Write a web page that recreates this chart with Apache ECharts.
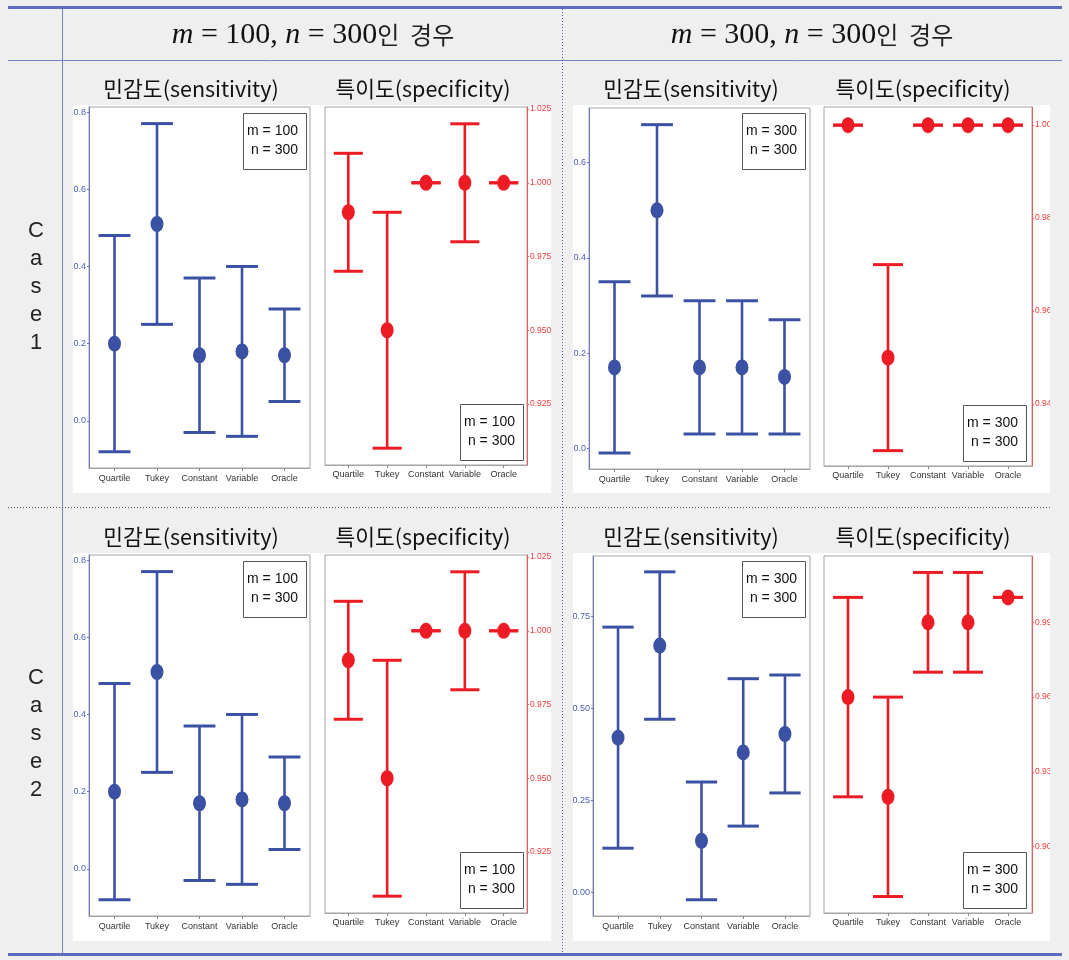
<!DOCTYPE html>
<html>
<head>
<meta charset="utf-8">
<script src="https://cdn.jsdelivr.net/npm/echarts@6/dist/echarts.min.js"></script>
<style>
  html, body { margin: 0; padding: 0; background: #efefef; }
  #chart { width: 1069px; height: 960px; }
</style>
</head>
<body>
<div id="chart"></div>
<script>
// Methods compared in every panel
const categories = ['Quartile', 'Tukey', 'Constant', 'Variable', 'Oracle'];

// m = 100, n = 300 (identical in Case 1 and Case 2)
const sens100Mean = [0.20, 0.51, 0.17, 0.18, 0.17];
const sens100Low  = [-0.08, 0.25, -0.03, -0.04, 0.05];
const sens100High = [0.48, 0.77, 0.37, 0.40, 0.29];
const spec100Mean = [0.990, 0.950, 1.000, 1.000, 1.000];
const spec100Low  = [0.970, 0.910, 1.000, 0.980, 1.000];
const spec100High = [1.010, 0.990, 1.000, 1.020, 1.000];

// m = 300, n = 300, Case 1
const sens300c1Mean = [0.17, 0.50, 0.17, 0.17, 0.15];
const sens300c1Low  = [-0.01, 0.32, 0.03, 0.03, 0.03];
const sens300c1High = [0.35, 0.68, 0.31, 0.31, 0.27];
const spec300c1Mean = [1.00, 0.95, 1.00, 1.00, 1.00];
const spec300c1Low  = [1.00, 0.93, 1.00, 1.00, 1.00];
const spec300c1High = [1.00, 0.97, 1.00, 1.00, 1.00];

// m = 300, n = 300, Case 2
const sens300c2Mean = [0.42, 0.67, 0.14, 0.38, 0.43];
const sens300c2Low  = [0.12, 0.47, -0.02, 0.18, 0.27];
const sens300c2High = [0.72, 0.87, 0.30, 0.58, 0.59];
const spec300c2Mean = [0.96, 0.92, 0.99, 0.99, 1.00];
const spec300c2Low  = [0.92, 0.88, 0.97, 0.97, 1.00];
const spec300c2High = [1.00, 0.96, 1.01, 1.01, 1.00];

// Y tick values for each panel type
const sensTicks100   = [0, 0.2, 0.4, 0.6, 0.8];
const specTicks100   = [0.925, 0.950, 0.975, 1.000, 1.025];
const sensTicks300c1 = [0, 0.2, 0.4, 0.6];
const specTicks300c1 = [0.94, 0.96, 0.98, 1.00];
const sensTicks300c2 = [0, 0.25, 0.50, 0.75];
const specTicks300c2 = [0.90, 0.93, 0.96, 0.99];

const BLUE = '#3b51a3';
const RED = '#ed1c24';
const SANS = "'Liberation Sans', Arial, sans-serif";
const KR = "'Noto Sans CJK KR', 'Noto Sans', sans-serif";
const CAP = 0.375;
const ELLIPSE = 'path://M0,-1A1,1 0 1,1 0,1A1,1 0 1,1 0,-1Z';

const panels = [
  { kind: 'sens', left: 89,  top: 107, width: 221, height: 361, min: -0.122, max: 0.813, ticks: sensTicks100, dec: 1,
    mean: sens100Mean, low: sens100Low, high: sens100High, box: [243, 113], m: 100 },
  { kind: 'spec', left: 325, top: 107, width: 202, height: 358, min: 0.9043, max: 1.0257, ticks: specTicks100, dec: 3,
    mean: spec100Mean, low: spec100Low, high: spec100High, box: [460, 404], m: 100 },
  { kind: 'sens', left: 589, top: 108, width: 221, height: 361, min: -0.0435, max: 0.715, ticks: sensTicks300c1, dec: 1,
    mean: sens300c1Mean, low: sens300c1Low, high: sens300c1High, box: [742, 113], m: 300 },
  { kind: 'spec', left: 824, top: 107, width: 208, height: 359, min: 0.9267, max: 1.0039, ticks: specTicks300c1, dec: 2,
    mean: spec300c1Mean, low: spec300c1Low, high: spec300c1High, box: [963, 405], m: 300 },
  { kind: 'sens', left: 89,  top: 555, width: 221, height: 361, min: -0.122, max: 0.813, ticks: sensTicks100, dec: 1,
    mean: sens100Mean, low: sens100Low, high: sens100High, box: [243, 561], m: 100 },
  { kind: 'spec', left: 325, top: 555, width: 202, height: 358, min: 0.9043, max: 1.0257, ticks: specTicks100, dec: 3,
    mean: spec100Mean, low: spec100Low, high: spec100High, box: [460, 852], m: 100 },
  { kind: 'sens', left: 593, top: 556, width: 217, height: 360, min: -0.064, max: 0.913, ticks: sensTicks300c2, dec: 2,
    mean: sens300c2Mean, low: sens300c2Low, high: sens300c2High, box: [742, 561], m: 300 },
  { kind: 'spec', left: 824, top: 556, width: 208, height: 357, min: 0.8734, max: 1.0166, ticks: specTicks300c2, dec: 2,
    mean: spec300c2Mean, low: spec300c2Low, high: spec300c2High, box: [963, 852], m: 300 }
];

function errorBarItem(params, api) {
  const x = api.value(0), lo = api.value(1), hi = api.value(2);
  const top = api.coord([x, hi]);
  const bot = api.coord([x, lo]);
  const l = api.coord([x - CAP, hi])[0];
  const r = api.coord([x + CAP, hi])[0];
  const color = api.visual('color');
  return {
    type: 'group',
    children: [
      { type: 'line', shape: { x1: top[0], y1: top[1], x2: bot[0], y2: bot[1] }, style: { stroke: color, lineWidth: 2.6 } },
      { type: 'line', shape: { x1: l, y1: top[1], x2: r, y2: top[1] }, style: { stroke: color, lineWidth: 3 } },
      { type: 'line', shape: { x1: l, y1: bot[1], x2: r, y2: bot[1] }, style: { stroke: color, lineWidth: 3 } }
    ]
  };
}

const grids = [], xAxes = [], yAxes = [], series = [];
const idx = [1, 2, 3, 4, 5];

panels.forEach((p, i) => {
  const sens = p.kind === 'sens';
  const color = sens ? BLUE : RED;
  const axisColor = sens ? '#6b7ac6' : '#f25a5a';
  const labelColor = sens ? '#4a5cb2' : '#f23a3a';
  grids.push({ left: p.left, top: p.top, width: p.width, height: p.height,
    show: true, borderColor: '#a3a3a3', borderWidth: 1, backgroundColor: '#ffffff' });
  xAxes.push({
    gridIndex: i, type: 'value', min: 0.4, max: 5.6,
    axisLine: { show: true, onZero: false, lineStyle: { color: '#a3a3a3' } },
    axisTick: { show: true, customValues: idx, length: 3, lineStyle: { color: '#888' } },
    axisLabel: { customValues: idx, formatter: v => categories[Math.round(v) - 1],
      fontSize: 9, color: '#333', margin: sens ? 6 : 5, fontFamily: SANS },
    splitLine: { show: false }
  });
  yAxes.push({
    gridIndex: i, type: 'value', min: p.min, max: p.max, position: sens ? 'left' : 'right',
    axisLine: { show: true, onZero: false, lineStyle: { color: axisColor, width: 1 } },
    axisTick: { show: true, customValues: p.ticks, length: 2, lineStyle: { color: axisColor } },
    axisLabel: { customValues: p.ticks, formatter: v => v.toFixed(p.dec), color: labelColor,
      fontSize: sens ? 9 : 8.5, margin: 3, fontFamily: SANS },
    splitLine: { show: false }
  });
  series.push({
    type: 'custom', xAxisIndex: i, yAxisIndex: i, renderItem: errorBarItem, silent: true, z: 2,
    itemStyle: { color: color }, encode: { x: 0, y: [1, 2] },
    data: categories.map((c, k) => [k + 1, p.low[k], p.high[k]])
  });
  series.push({
    type: 'scatter', xAxisIndex: i, yAxisIndex: i, z: 3, silent: true,
    symbol: ELLIPSE, symbolSize: [13, 16], itemStyle: { color: color, opacity: 1 },
    data: p.mean.map((v, k) => [k + 1, v])
  });
});

const LINE = '#5d6cbf';
const graphics = [];

// white panel backgrounds
[[73, 105], [573, 105], [73, 553], [573, 553]].forEach(([x, y]) => {
  graphics.push({ type: 'rect', z: -10, shape: { x: x, y: y, width: 478, height: 388 }, style: { fill: '#ffffff' } });
});

// table rules
graphics.push({ type: 'rect', z: 20, shape: { x: 8, y: 6, width: 1054, height: 3 }, style: { fill: LINE } });
graphics.push({ type: 'rect', z: 20, shape: { x: 8, y: 953, width: 1054, height: 3 }, style: { fill: LINE } });
graphics.push({ type: 'line', z: 20, shape: { x1: 8, y1: 60.5, x2: 1062, y2: 60.5 }, style: { stroke: '#7582c8', lineWidth: 1 } });
graphics.push({ type: 'line', z: 20, shape: { x1: 62.5, y1: 9, x2: 62.5, y2: 953 }, style: { stroke: '#7582c8', lineWidth: 1 } });
graphics.push({ type: 'line', z: 20, shape: { x1: 562.5, y1: 9, x2: 562.5, y2: 953 }, style: { stroke: '#4c5cb8', lineWidth: 1, lineDash: [1, 2] } });
graphics.push({ type: 'line', z: 20, shape: { x1: 8, y1: 507.5, x2: 1062, y2: 507.5 }, style: { stroke: '#555', lineWidth: 1, lineDash: [1, 2] } });

// column headers
function header(x, m) {
  return {
    type: 'text', z: 20, x: x, y: 35,
    style: {
      text: '{i|m}{s| = ' + m + ', }{i|n}{s| = 300}{k|인  경우}',
      align: 'center', verticalAlign: 'middle',
      rich: {
        i: { fontFamily: "'Liberation Serif', 'DejaVu Serif', serif", fontStyle: 'italic', fontSize: 30, fill: '#111' },
        s: { fontFamily: "'Liberation Serif', 'DejaVu Serif', serif", fontSize: 30, fill: '#111' },
        k: { fontFamily: KR, fontSize: 24, fill: '#222' }
      }
    }
  };
}
graphics.push(header(313, 100));
graphics.push(header(812, 300));

// row labels
[['C\na\ns\ne\n1', 287], ['C\na\ns\ne\n2', 734]].forEach(([t, y]) => {
  graphics.push({ type: 'text', z: 20, x: 36, y: y,
    style: { text: t, align: 'center', verticalAlign: 'middle', lineHeight: 28,
      fontFamily: "'Liberation Sans', 'Noto Sans', sans-serif", fontSize: 22, fill: '#222' } });
});

// panel titles
[[191, 89, '민감도(sensitivity)'], [423, 89, '특이도(specificity)'],
 [691, 89, '민감도(sensitivity)'], [923, 89, '특이도(specificity)'],
 [191, 537, '민감도(sensitivity)'], [423, 537, '특이도(specificity)'],
 [691, 537, '민감도(sensitivity)'], [923, 537, '특이도(specificity)']].forEach(([x, y, t]) => {
  graphics.push({ type: 'text', z: 20, x: x, y: y,
    style: { text: t, align: 'center', verticalAlign: 'middle', fontFamily: KR, fontSize: 21.5, fill: '#111' } });
});

// sample size boxes inside each panel
panels.forEach(p => {
  const [bx, by] = p.box;
  graphics.push({ type: 'rect', z: 15, shape: { x: bx + 0.5, y: by + 0.5, width: 63, height: 56 },
    style: { fill: '#ffffff', stroke: '#555', lineWidth: 1 } });
  graphics.push({ type: 'text', z: 16, x: bx + 55, y: by + 28,
    style: { text: 'm = ' + p.m + '\nn = 300', align: 'right', verticalAlign: 'middle', lineHeight: 19,
      fontFamily: SANS, fontSize: 14, fill: '#111' } });
});

// right edge of the plot images
graphics.push({ type: 'rect', z: 30, shape: { x: 1050, y: 100, width: 19, height: 850 }, style: { fill: '#efefef' } });

const chart = echarts.init(document.getElementById('chart'), null, { renderer: 'canvas' });
chart.setOption({
  backgroundColor: '#efefef',
  animation: false,
  grid: grids,
  xAxis: xAxes,
  yAxis: yAxes,
  series: series,
  graphic: { elements: graphics }
});
</script>
</body>
</html>
